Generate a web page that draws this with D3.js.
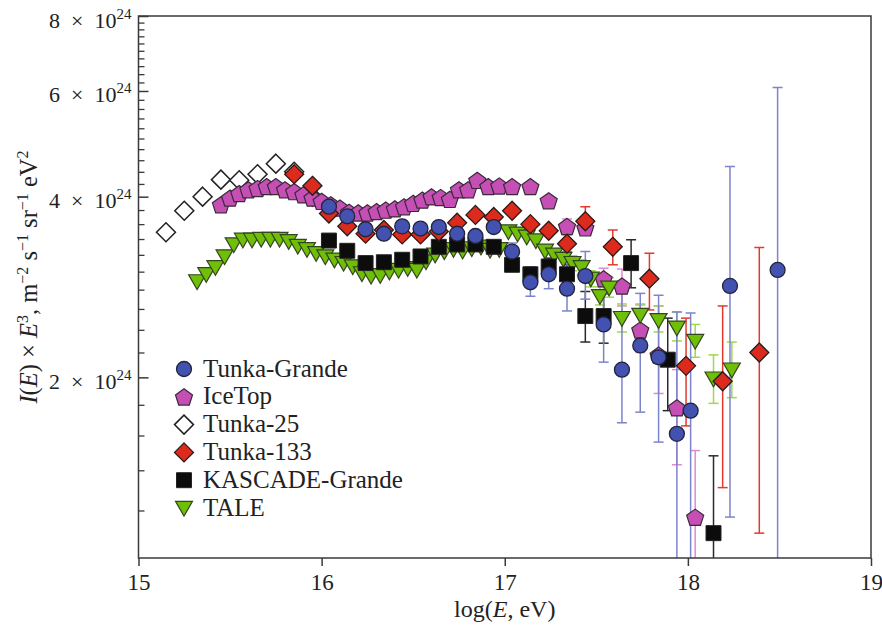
<!DOCTYPE html>
<html>
<head>
<meta charset="utf-8">
<script src="https://cdn.jsdelivr.net/npm/d3@7"></script>
<style>
  body { margin: 0; background: #fff; }
  svg text { font-family: "Liberation Serif", "Times New Roman", serif; fill: #222; }
</style>
</head>
<body>
<svg id="chart" width="882" height="627"></svg>
<script>
// log10(E/eV) and I(E)*E^3 in units of 10^24 m^-2 s^-1 sr^-1 eV^2

const tunkaGrandeE = [16.04, 16.14, 16.24, 16.34, 16.44, 16.54, 16.64, 16.74, 16.84, 16.94,
  17.04, 17.14, 17.24, 17.34, 17.44, 17.54, 17.64, 17.74, 17.84, 17.94, 18.015, 18.23, 18.49];
const tunkaGrandeI = [3.85, 3.71, 3.53, 3.47, 3.57, 3.54, 3.56, 3.47, 3.44, 3.56,
  3.24, 2.88, 2.97, 2.81, 2.95, 2.45, 2.06, 2.26, 2.16, 1.61, 1.76, 2.84, 3.02];
const tunkaGrandeErrE = [17.04, 17.14, 17.24, 17.34, 17.44, 17.54, 17.64, 17.74, 17.84, 17.94, 18.015, 18.23, 18.49];
const tunkaGrandeLow = [3.13, 2.73, 2.81, 2.58, 2.70, 2.12, 1.68, 1.75, 1.56, 0.9, 0.9, 1.17, 0.9];
const tunkaGrandeHigh = [3.35, 3.05, 3.14, 3.24, 3.24, 2.75, 2.76, 2.76, 2.74, 2.57, 2.56, 4.49, 6.08];

const iceTopE = [15.45, 15.50, 15.55, 15.60, 15.65, 15.70, 15.75, 15.80, 15.85, 15.90,
  15.95, 16.00, 16.05, 16.10, 16.15, 16.20, 16.25, 16.30, 16.35, 16.40,
  16.45, 16.50, 16.55, 16.60, 16.65, 16.70, 16.75, 16.80, 16.85, 16.91,
  16.97, 17.04, 17.14, 17.24, 17.34, 17.44, 17.54, 17.64, 17.74, 17.84, 17.94, 18.04];
const iceTopI = [3.88, 3.98, 4.05, 4.11, 4.13, 4.16, 4.16, 4.11, 4.08, 4.03,
  3.98, 3.93, 3.88, 3.83, 3.77, 3.76, 3.76, 3.78, 3.80, 3.82,
  3.85, 3.90, 3.95, 4.00, 3.99, 3.96, 4.11, 4.11, 4.26, 4.16,
  4.17, 4.16, 4.16, 3.94, 3.57, 3.55, 2.92, 2.84, 2.40, 2.18, 1.78, 1.17];
const iceTopErrE = [17.34, 17.44, 17.54, 17.64, 17.74, 17.84, 17.94, 18.04];
const iceTopLow = [3.47, 3.45, 2.80, 2.63, 2.20, 1.88, 1.43, 0.9];
const iceTopHigh = [3.67, 3.66, 3.04, 3.03, 2.64, 2.63, 2.06, 1.51];

const tunka25E = [15.15, 15.25, 15.35, 15.45, 15.55, 15.65, 15.75, 15.85, 15.95];
const tunka25I = [3.49, 3.79, 4.00, 4.27, 4.26, 4.36, 4.54, 4.40, 4.00];

const tunka133E = [15.85, 15.95, 16.04, 16.14, 16.24, 16.34, 16.44, 16.54, 16.64, 16.74,
  16.84, 16.94, 17.04, 17.14, 17.24, 17.34, 17.44, 17.59, 17.79, 17.99, 18.19, 18.39];
const tunka133I = [4.36, 4.17, 3.75, 3.57, 3.47, 3.52, 3.46, 3.46, 3.50, 3.62,
  3.73, 3.70, 3.79, 3.60, 3.51, 3.34, 3.64, 3.30, 2.92, 2.09, 1.97, 2.20];
const tunka133ErrE = [17.34, 17.44, 17.59, 17.79, 17.99, 18.19, 18.39];
const tunka133Low = [3.22, 3.46, 3.08, 2.59, 1.66, 1.31, 1.10];
const tunka133High = [3.46, 3.85, 3.52, 3.22, 2.51, 2.63, 3.29];

const kascadeE = [16.04, 16.14, 16.24, 16.34, 16.44, 16.54, 16.64, 16.74, 16.84, 16.94,
  17.04, 17.14, 17.24, 17.34, 17.44, 17.54, 17.69, 17.89, 18.14];
const kascadeI = [3.38, 3.25, 3.10, 3.11, 3.14, 3.18, 3.30, 3.33, 3.33, 3.30,
  3.08, 2.97, 3.06, 2.97, 2.53, 2.53, 3.10, 2.14, 1.10];
const kascadeErrE = [17.14, 17.24, 17.34, 17.44, 17.54, 17.69, 17.89, 18.14];
const kascadeLow = [2.90, 2.98, 2.88, 2.29, 2.28, 2.82, 1.76, 0.9];
const kascadeHigh = [3.05, 3.16, 3.08, 2.78, 2.78, 3.39, 2.51, 1.48];

const taleE = [15.32, 15.37, 15.42, 15.47, 15.52, 15.57, 15.62, 15.67, 15.72, 15.77,
  15.82, 15.87, 15.92, 15.97, 16.02, 16.07, 16.12, 16.17, 16.22, 16.27,
  16.32, 16.37, 16.42, 16.47, 16.52, 16.57, 16.62, 16.67, 16.72, 16.77,
  16.82, 16.87, 16.92, 16.97, 17.02, 17.07, 17.12, 17.17, 17.22, 17.27,
  17.32, 17.37, 17.42, 17.47, 17.52, 17.57, 17.64, 17.74, 17.84, 17.94, 18.04, 18.14, 18.24];
const taleI = [2.89, 2.97, 3.05, 3.18, 3.33, 3.39, 3.39, 3.40, 3.40, 3.40,
  3.37, 3.31, 3.27, 3.22, 3.18, 3.14, 3.10, 3.06, 2.98, 2.95,
  2.96, 3.00, 3.02, 3.04, 3.02, 3.12, 3.20, 3.24, 3.27, 3.25,
  3.28, 3.30, 3.26, 3.27, 3.50, 3.47, 3.43, 3.38, 3.25, 3.20,
  3.15, 3.10, 3.05, 2.92, 2.73, 2.82, 2.51, 2.54, 2.49, 2.42, 2.30, 1.99, 2.06];
const taleErrE = [17.37, 17.42, 17.47, 17.52, 17.57, 17.64, 17.74, 17.84, 17.94, 18.04, 18.14, 18.24];
const taleLow = [3.01, 2.96, 2.83, 2.64, 2.72, 2.38, 2.40, 2.38, 2.30, 2.16, 1.81, 1.85];
const taleHigh = [3.19, 3.14, 3.01, 2.83, 2.93, 2.65, 2.65, 2.63, 2.57, 2.45, 2.18, 2.29];

const xTicks = [15, 16, 17, 18, 19];
const yMajorTicks = [2, 4, 6, 8];
const legendNames = ["Tunka-Grande", "IceTop", "Tunka-25", "Tunka-133", "KASCADE-Grande", "TALE"];

const serif = "'Liberation Serif', 'Times New Roman', serif";

// marker shapes, size is the square of the half-extent
const shapeCircle = { draw(ctx, s) { const r = Math.sqrt(s); ctx.moveTo(r, 0); ctx.arc(0, 0, r, 0, 2 * Math.PI); } };
const shapeSquare = { draw(ctx, s) { const r = Math.sqrt(s); ctx.rect(-r, -r, 2 * r, 2 * r); } };
const shapeDiamond = { draw(ctx, s) {
  const r = Math.sqrt(s);
  ctx.moveTo(0, -r); ctx.lineTo(r, 0); ctx.lineTo(0, r); ctx.lineTo(-r, 0); ctx.closePath();
} };
const shapePentagon = { draw(ctx, s) {
  const r = Math.sqrt(s);
  for (let i = 0; i < 5; i++) {
    const a = -Math.PI / 2 + i * 2 * Math.PI / 5;
    i ? ctx.lineTo(r * Math.cos(a), r * Math.sin(a) + 1) : ctx.moveTo(r * Math.cos(a), r * Math.sin(a) + 1);
  }
  ctx.closePath();
} };
const shapeTriDown = { draw(ctx, s) {
  const r = Math.sqrt(s);
  ctx.moveTo(-r, -0.78 * r); ctx.lineTo(r, -0.78 * r); ctx.lineTo(0, 0.95 * r); ctx.closePath();
} };

const series = [
  { name: "Tunka-25", E: tunka25E, I: tunka25I, shape: shapeDiamond, size: 90, fill: "#fff", stroke: "#222", sw: 1.5 },
  { name: "IceTop", E: iceTopE, I: iceTopI, shape: shapePentagon, size: 80, fill: "#c64fb6", stroke: "#3a2a38", sw: 1.2,
    errE: iceTopErrE, lo: iceTopLow, hi: iceTopHigh, errColor: "#e08ad6" },
  { name: "TALE", E: taleE, I: taleI, shape: shapeTriDown, size: 72, fill: "#6fbf08", stroke: "#34451f", sw: 1.2,
    errE: taleErrE, lo: taleLow, hi: taleHigh, errColor: "#9fd94c" },
  { name: "KASCADE-Grande", E: kascadeE, I: kascadeI, shape: shapeSquare, size: 56, fill: "#0c0c0c", stroke: "#222", sw: 1,
    errE: kascadeErrE, lo: kascadeLow, hi: kascadeHigh, errColor: "#2a2a2a" },
  { name: "Tunka-133", E: tunka133E, I: tunka133I, shape: shapeDiamond, size: 90, fill: "#dc2b1d", stroke: "#2a1a18", sw: 1.3,
    errE: tunka133ErrE, lo: tunka133Low, hi: tunka133High, errColor: "#e4392c" },
  { name: "Tunka-Grande", E: tunkaGrandeE, I: tunkaGrandeI, shape: shapeCircle, size: 56, fill: "#4351b1", stroke: "#22253a", sw: 1.3,
    errE: tunkaGrandeErrE, lo: tunkaGrandeLow, hi: tunkaGrandeHigh, errColor: "#7c84cc" }
];

const svg = d3.select("#chart");
const x = d3.scaleLinear().domain([15, 19]).range([138.5, 871]);
const y = d3.scaleLog().domain([1, 8]).range([558, 16]);

svg.append("clipPath").attr("id", "plot-clip")
  .append("rect")
  .attr("x", x(15)).attr("y", y(8))
  .attr("width", x(19) - x(15)).attr("height", y(1) - y(8));

// error bars go underneath all markers
const errLayer = svg.append("g").attr("clip-path", "url(#plot-clip)");
series.filter(s => s.errE).forEach(s => {
  const g = errLayer.append("g").attr("stroke", s.errColor).attr("stroke-width", 1.5).attr("fill", "none");
  s.errE.forEach((e, i) => {
    const cx = x(e), y0 = y(s.lo[i]), y1 = y(s.hi[i]);
    g.append("line").attr("x1", cx).attr("x2", cx).attr("y1", y0).attr("y2", y1);
    g.append("line").attr("x1", cx - 5).attr("x2", cx + 5).attr("y1", y0).attr("y2", y0);
    g.append("line").attr("x1", cx - 5).attr("x2", cx + 5).attr("y1", y1).attr("y2", y1);
  });
});

series.forEach(s => {
  svg.append("g")
    .selectAll("path")
    .data(s.E.map((e, i) => [e, s.I[i]]))
    .join("path")
    .attr("transform", d => `translate(${x(d[0])},${y(d[1])})`)
    .attr("d", d3.symbol().type(s.shape).size(s.size))
    .attr("fill", s.fill)
    .attr("stroke", s.stroke)
    .attr("stroke-width", s.sw);
});

// frame
svg.append("rect")
  .attr("x", x(15)).attr("y", y(8))
  .attr("width", x(19) - x(15)).attr("height", y(1) - y(8))
  .attr("fill", "none").attr("stroke", "#3a3a3a").attr("stroke-width", 1.5);

// x axis, ticks pointing outward
const gx = svg.append("g")
  .attr("transform", `translate(0,${y(1)})`)
  .call(d3.axisBottom(x).tickValues(xTicks).tickSize(8).tickPadding(8).tickFormat(d3.format("d")));
gx.attr("font-family", serif).attr("font-size", 23);
gx.select(".domain").remove();
gx.selectAll(".tick line").attr("stroke", "#3a3a3a").attr("stroke-width", 1.5);
gx.selectAll(".tick text").attr("font-size", 23).attr("font-family", serif).attr("fill", "#222");

// y axis, ticks pointing inward
const yMinorTicks = d3.range(12, 80, 2).map(v => v / 10).filter(v => !yMajorTicks.includes(v));
const gyMinor = svg.append("g")
  .attr("transform", `translate(${x(15)},0)`)
  .call(d3.axisLeft(y).tickValues(yMinorTicks).tickSize(-6).tickFormat(""));
gyMinor.select(".domain").remove();
gyMinor.selectAll(".tick line").attr("stroke", "#3a3a3a").attr("stroke-width", 1.3);

const gy = svg.append("g")
  .attr("transform", `translate(${x(15)},0)`)
  .call(d3.axisLeft(y).tickValues(yMajorTicks).tickSize(-10).tickPadding(7).tickFormat(""));
gy.attr("font-family", serif).attr("font-size", 22);
gy.select(".domain").remove();
gy.selectAll(".tick line").attr("stroke", "#3a3a3a").attr("stroke-width", 1.5);
gy.selectAll(".tick text")
  .attr("font-size", 22).attr("font-family", serif).attr("fill", "#222")
  .attr("dy", null).attr("y", 11)
  .each(function (d) {
    const t = d3.select(this);
    t.append("tspan").text(`${d}\u2002×\u200210`);
    t.append("tspan").attr("dy", -9).attr("font-size", 15).text("24");
  });

// axis titles
const xTitle = svg.append("text")
  .attr("x", x(17)).attr("y", 617)
  .attr("font-family", serif)
  .attr("text-anchor", "middle").attr("font-size", 24);
xTitle.append("tspan").text("log(");
xTitle.append("tspan").attr("font-style", "italic").text("E");
xTitle.append("tspan").text(", eV)");

const yTitle = svg.append("text")
  .attr("transform", "translate(37,277) rotate(-90)")
  .attr("font-family", serif)
  .attr("text-anchor", "middle").attr("font-size", 24.5);
[
  ["I", "i"], ["(", ""], ["E", "i"], [") × ", ""], ["E", "i"], ["3", "s"],
  [", m", ""], ["−2", "s"], [" s", ""], ["−1", "s"], [" sr", ""], ["−1", "s"], [" eV", ""], ["2", "s"]
].reduce((wasSup, [txt, kind]) => {
  const sp = yTitle.append("tspan").text(txt);
  if (kind === "i") sp.attr("font-style", "italic");
  if (kind === "s") sp.attr("font-size", 16).attr("dy", -9);
  else if (wasSup) sp.attr("dy", 9);
  return kind === "s";
}, false);

// legend
const legendShapes = {};
series.forEach(s => { legendShapes[s.name] = s; });
const legend = svg.append("g").attr("font-family", serif);
legendNames.forEach((name, i) => {
  const s = legendShapes[name];
  const ly = 369 + i * 27.8;
  legend.append("path")
    .attr("transform", `translate(184,${ly})`)
    .attr("d", d3.symbol().type(s.shape).size(s.size))
    .attr("fill", s.fill).attr("stroke", s.stroke).attr("stroke-width", s.sw);
  legend.append("text")
    .attr("x", 203).attr("y", ly + 7.5)
    .attr("font-family", serif)
    .attr("font-size", 25)
    .text(name);
});
</script>
</body>
</html>
